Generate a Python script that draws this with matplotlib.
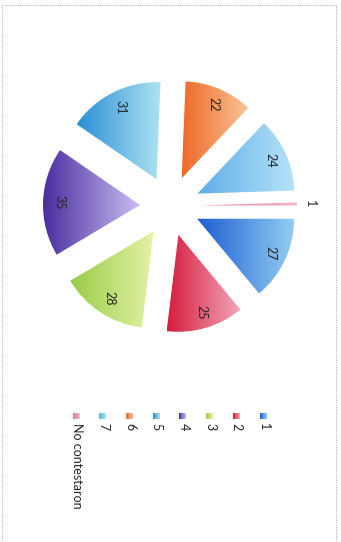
import numpy as np
import matplotlib
matplotlib.use("Agg")
import matplotlib.pyplot as plt
from matplotlib.colors import LinearSegmentedColormap
from matplotlib.patches import Rectangle

plt.rcParams['font.family'] = ['Lato', 'DejaVu Sans']

# data
categories = ["1", "2", "3", "4", "5", "6", "7", "No contestaron"]
values = [27, 25, 28, 35, 31, 22, 24, 1]
dark_colors = ["#1c5fd2", "#d61e3c", "#98cc48", "#4a2f9e", "#2e8fd6", "#ee6a2a", "#5eaee8", "#e07aa0"]
light_colors = ["#92ccf2", "#f2a6bc", "#e4f2a6", "#cabcf2", "#ace2f2", "#f8c496", "#b4e2f8", "#f4b8cc"]

W, H = 341, 542
fig = plt.figure(figsize=(W / 100, H / 100), dpi=100)
ax = fig.add_axes([0, 0, 1, 1])


def grad_fill(ax, patch, c1, c2):
    # paint a left-to-right gradient clipped to the patch
    ext = patch.get_path().get_extents(patch.get_patch_transform())
    cmap = LinearSegmentedColormap.from_list("g", [c1, c2])
    img = np.linspace(0, 1, 64).reshape(1, -1)
    im = ax.imshow(img, cmap=cmap, extent=[ext.x0, ext.x1, ext.y0, ext.y1],
                   aspect='auto', interpolation='bilinear', zorder=2)
    im.set_clip_path(patch)


cx, cy = 170, H - 206
r = 97
wedges, _ = ax.pie(values, radius=r, center=(cx, cy), startangle=0,
                   counterclock=False, explode=[30] * len(values),
                   wedgeprops=dict(linewidth=0), frame=True)

for w, v, c1, c2 in zip(wedges, values, dark_colors, light_colors):
    w.set_facecolor('none')
    grad_fill(ax, w, c1, c2)
    mid = np.deg2rad((w.theta1 + w.theta2) / 2)
    dist = 0.83 * w.r if v > 5 else 1.13 * w.r
    tx = w.center[0] + dist * np.cos(mid)
    ty = w.center[1] + dist * np.sin(mid)
    ax.text(tx, ty, str(v), rotation=-90, ha='center', va='center',
            fontsize=9, color='#222222', zorder=5)

# legend drawn rotated like the rest of the scanned chart
lx0, ldx = 263, -26.7
ly = H - 416
for i, (name, c1, c2) in enumerate(zip(categories, dark_colors, light_colors)):
    x = lx0 + i * ldx
    sq = Rectangle((x - 3.5, ly - 3.5), 7, 7, facecolor='none', linewidth=0)
    ax.add_patch(sq)
    grad_fill(ax, sq, c1, c2)
    ax.text(x + 0.5, ly - 7, name, rotation=-90, ha='center', va='top',
            fontsize=9, color='#222222')

# outer frame
ax.add_patch(Rectangle((2, -10), 334, H - 5 + 10, facecolor='none',
                       edgecolor='#b8b8b8', linewidth=0.8, linestyle=(0, (1, 1))))

ax.set_xlim(0, W)
ax.set_ylim(0, H)
ax.set_aspect('auto')
ax.axis('off')

fig.savefig("out.png", dpi=100, facecolor='white')
